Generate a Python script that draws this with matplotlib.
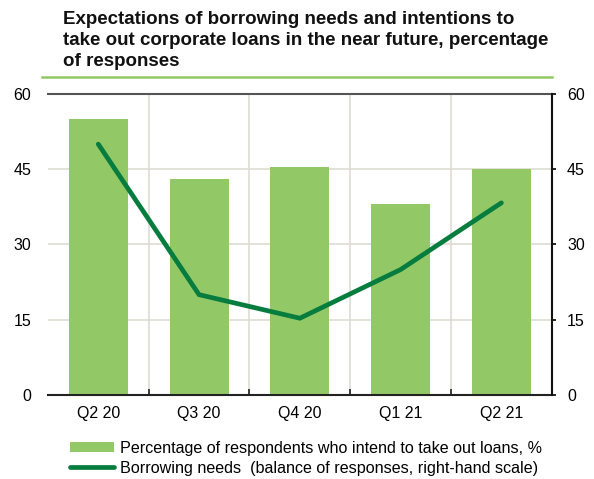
import matplotlib
matplotlib.use("Agg")
from matplotlib import pyplot as plt
from matplotlib.lines import Line2D
from matplotlib.patches import Patch

plt.rcParams["font.family"] = ["Liberation Sans", "DejaVu Sans"]

quarters = ["Q2 20", "Q3 20", "Q4 20", "Q1 21", "Q2 21"]
intend_loans = [55, 43, 45.4, 38, 45]
borrowing_needs = [50, 20, 15.3, 25, 38.3]

bar_color = "#92c966"
line_color = "#067d3e"
grid_color = "#dddcd3"

fig = plt.figure(figsize=(5.94, 4.79), dpi=100)
ax = fig.add_axes([0.0806, 0.1754, 0.8483, 0.6284])
ax2 = ax.twinx()

x = list(range(len(quarters)))
ax.bar(x, intend_loans, width=0.585, color=bar_color, zorder=2)
ax2.plot(x, borrowing_needs, color=line_color, lw=3.4, solid_capstyle="round",
         solid_joinstyle="miter", zorder=3)

for a in (ax, ax2):
    a.set_xlim(-0.5, len(quarters) - 0.5)
    a.set_ylim(0, 60)
    a.set_yticks([0, 15, 30, 45, 60])

# grid
for v in [15, 30, 45]:
    ax.axhline(v, color=grid_color, lw=1.2, zorder=1)
for b in [0.5, 1.5, 2.5, 3.5]:
    ax.axvline(b, color=grid_color, lw=1.2, zorder=1)

ax.spines["left"].set_visible(False)
ax2.spines["left"].set_visible(False)
ax.spines["top"].set_color("#555555")
ax.spines["top"].set_linewidth(1.5)
ax2.spines["top"].set_visible(False)
ax.spines["right"].set_visible(False)
ax2.spines["right"].set_color("#111111")
ax2.spines["right"].set_linewidth(1.5)
ax.spines["bottom"].set_color("#222222")
ax.spines["bottom"].set_linewidth(1.5)
ax2.spines["bottom"].set_visible(False)

ax.set_xticks(x)
ax.set_xticklabels(quarters, fontsize=11.5)
ax.tick_params(axis="x", which="major", length=0, pad=8)
ax.set_xticks([0.5, 1.5, 2.5, 3.5], minor=True)
ax.tick_params(axis="x", which="minor", direction="in", length=4, width=1.2, color="#222222")
ax.tick_params(axis="y", length=0, labelsize=11.5, pad=12)
ax2.tick_params(axis="y", direction="out", length=3, width=1.2, labelsize=11.5, pad=8)

# title
fig.text(63 / 594, 1 - 11 / 479,
         "Expectations of borrowing needs and intentions to\n"
         "take out corporate loans in the near future, percentage\n"
         "of responses",
         fontsize=13.5, fontweight="bold", color="#111111", va="top", ha="left",
         linespacing=1.3)
fig.add_artist(Line2D([42 / 594, 552 / 594], [1 - 77 / 479, 1 - 77 / 479],
                      color=bar_color, lw=1.8))

handles = [Patch(facecolor=bar_color, edgecolor="none"),
           Line2D([0], [0], color=line_color, lw=3.4, solid_capstyle="round")]
labels = ["Percentage of respondents who intend to take out loans, %",
          "Borrowing needs  (balance of responses, right-hand scale)"]
fig.legend(handles, labels, loc="upper left", bbox_to_anchor=(70 / 594, 1 - 441 / 479),
           frameon=False, fontsize=11.6, handlelength=2.7, handleheight=0.6,
           handletextpad=0.4, borderpad=0, borderaxespad=0, labelspacing=0.3)

fig.savefig("out.png", dpi=100)
